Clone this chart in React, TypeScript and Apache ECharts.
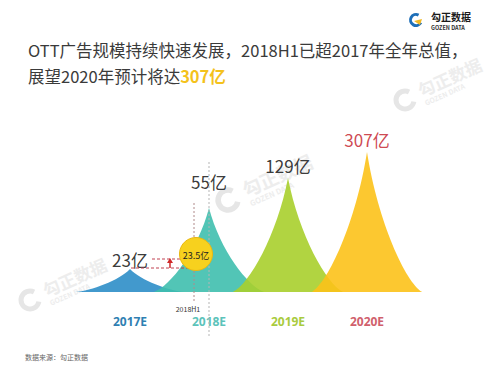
import React, { useEffect, useRef } from "react";
import * as echarts from "echarts";

const categories = ["2017E", "2018E", "2019E", "2020E"];
const values = [23, 55, 129, 307];
// visual peak heights of the spikes (display units, as drawn in the infographic)
const peakHeights = [23, 84, 114, 140];
const spikeColors = ["#2e8ec8", "#3fbfae", "#a8cf2c", "#fcc21a"];
const axisLabelColors = ["#2f7fb2", "#5cc3ba", "#a9cb3e", "#d0606c"];
const valueLabelColors = ["#222222", "#222222", "#222222", "#c8323c"];
const labelDistances = [1, 18, 4, 4];
const h1Value = 23.5;

const FONT = "'Noto Sans CJK SC', 'Noto Sans', sans-serif";

function watermark(x: number, y: number, rot: number, scale: number) {
  return {
    type: "group",
    x,
    y,
    rotation: rot,
    scaleX: scale,
    scaleY: scale,
    silent: true,
    children: [
      {
        type: "arc",
        shape: { cx: 0, cy: 0, r: 9, startAngle: 0.6, endAngle: 5.6 },
        style: { stroke: "#e6e6e6", lineWidth: 5, fill: null },
      },
      {
        type: "text",
        style: {
          x: 16,
          y: -3,
          text: "勾正数据",
          font: `bold 17px ${FONT}`,
          fill: "#ededed",
          verticalAlign: "middle",
        },
      },
      {
        type: "text",
        style: {
          x: 17,
          y: 11,
          text: "GOZEN DATA",
          font: `bold 7px ${FONT}`,
          fill: "#ededed",
          verticalAlign: "middle",
        },
      },
    ],
  };
}

export default function App() {
  const ref = useRef<HTMLDivElement>(null);
  useEffect(() => {
    if (!ref.current) return;
    const chart = echarts.init(ref.current, null, { renderer: "svg" });
    const option: any = {
      animation: false,
      backgroundColor: "#ffffff",
      grid: { left: 90.5, width: 316, bottom: 83, height: 150, containLabel: false },
      xAxis: {
        type: "category",
        data: categories,
        axisLine: { show: false },
        axisTick: { show: false },
        splitLine: { show: false },
        axisLabel: {
          margin: 23,
          fontSize: 12,
          fontWeight: "bold",
          fontFamily: "'Open Sans', 'Noto Sans', sans-serif",
          color: (_v: any, i: number) => axisLabelColors[i],
        },
      },
      yAxis: { type: "value", min: 0, max: 150, show: false },
      graphic: [
        watermark(405, 100, 0.42, 1),
        watermark(228, 200, 0.42, 1.1),
        watermark(30, 300, 0.42, 1),
        {
          type: "text",
          style: {
            x: 28,
            y: 50,
            text: "OTT广告规模持续快速发展，2018H1已超2017年全年总值，",
            font: `16.5px ${FONT}`,
            fill: "#3a3a3a",
            verticalAlign: "middle",
          },
        },
        {
          type: "text",
          style: {
            x: 28,
            y: 76,
            text: "展望2020年预计将达{h|307亿}",
            font: `16.5px ${FONT}`,
            fill: "#3a3a3a",
            verticalAlign: "middle",
            rich: {
              h: { fontSize: 16.5, fontWeight: "bold", fill: "#f4c21c", fontFamily: FONT },
            },
          },
        },
        // logo
        {
          type: "arc",
          shape: { cx: 416, cy: 20, r: 5.5, startAngle: 0.5, endAngle: 5.2 },
          style: { stroke: "#1e6fb8", lineWidth: 3, fill: null },
        },
        {
          type: "polygon",
          shape: { points: [[414, 21], [422, 19], [420, 25]] },
          style: { fill: "#f0b823" },
        },
        {
          type: "text",
          style: {
            x: 431,
            y: 16.5,
            text: "勾正数据",
            font: `bold 10px ${FONT}`,
            fill: "#1a1a1a",
            verticalAlign: "middle",
          },
        },
        {
          type: "text",
          style: {
            x: 431,
            y: 27.5,
            text: "GOZEN DATA",
            font: `bold 5.5px ${FONT}`,
            fill: "#333333",
            verticalAlign: "middle",
          },
        },
        // gray dotted guide at 2018E
        {
          type: "line",
          shape: { x1: 209, y1: 162, x2: 209, y2: 337 },
          style: { stroke: "#b5b5b5", lineWidth: 1, lineDash: [2, 2] },
          z: 5,
        },
        // 2018H1 vertical
        {
          type: "line",
          shape: { x1: 194, y1: 203, x2: 194, y2: 301 },
          style: { stroke: "#b08a8a", lineWidth: 1, lineDash: [2, 2] },
          z: 5,
        },
        // dashed red horizontals
        {
          type: "line",
          shape: { x1: 152, y1: 259, x2: 182, y2: 259 },
          style: { stroke: "#c04050", lineWidth: 1, lineDash: [3, 2] },
          z: 5,
        },
        {
          type: "line",
          shape: { x1: 131, y1: 268, x2: 193, y2: 268 },
          style: { stroke: "#c04050", lineWidth: 1, lineDash: [3, 2] },
          z: 5,
        },
        // arrow
        {
          type: "line",
          shape: { x1: 170, y1: 268, x2: 170, y2: 262 },
          style: { stroke: "#d02a2a", lineWidth: 1.5 },
          z: 6,
        },
        {
          type: "polygon",
          shape: { points: [[167, 263], [173, 263], [170, 258]] },
          style: { fill: "#d02a2a" },
          z: 6,
        },
        // H1 circle
        {
          type: "circle",
          shape: { cx: 196, cy: 254, r: 16.5 },
          style: { fill: "#f7d11e", stroke: "#eab812", lineWidth: 1 },
          z: 7,
        },
        {
          type: "text",
          style: {
            x: 196,
            y: 255,
            text: `${h1Value}亿`,
            font: `9px ${FONT}`,
            fill: "#222222",
            align: "center",
            verticalAlign: "middle",
          },
          z: 8,
        },
        {
          type: "text",
          style: {
            x: 188,
            y: 309,
            text: "2018H1",
            font: `7px ${FONT}`,
            fill: "#333333",
            align: "center",
            verticalAlign: "middle",
          },
          z: 8,
        },
        {
          type: "text",
          style: {
            x: 25,
            y: 357,
            text: "数据来源：勾正数据",
            font: `7px ${FONT}`,
            fill: "#666666",
            verticalAlign: "middle",
          },
        },
      ],
      series: [
        {
          type: "pictorialBar",
          barCategoryGap: "-40%",
          symbol: "path://M0,10 L10,10 C8.5,9.3 6,5 5,0 C4,5 1.5,9.3 0,10 z",
          z: 3,
          data: peakHeights.map((h, i) => ({
            value: h,
            itemStyle: { color: spikeColors[i], opacity: 0.9 },
            label: {
              show: true,
              position: "top",
              distance: labelDistances[i],
              formatter: `${values[i]}亿`,
              fontSize: 17,
              fontFamily: FONT,
              color: valueLabelColors[i],
            },
          })),
        },
      ],
    };
    chart.setOption(option);
    return () => chart.dispose();
  }, []);
  return (
    <div
      ref={ref}
      style={{ position: "fixed", left: 0, top: 0, width: 500, height: 375 }}
    />
  );
}
